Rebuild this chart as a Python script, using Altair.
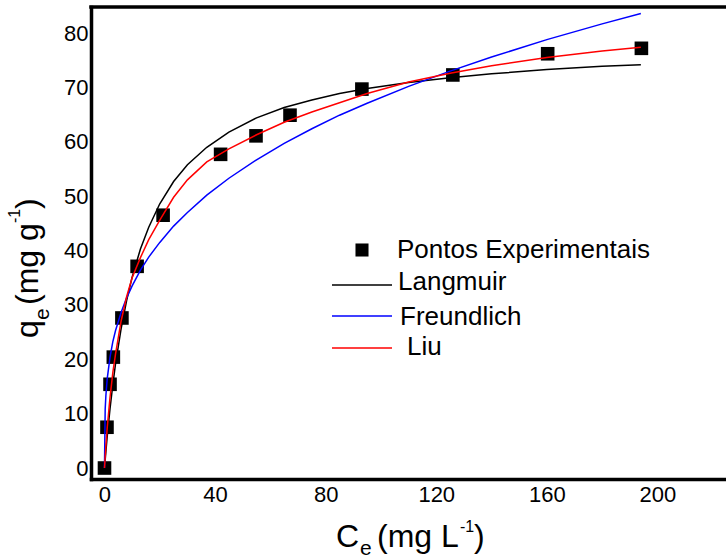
import altair as alt
import pandas as pd

FONT = "Liberation Sans"

# ---- data ----
ce_exp = [0, 0.9, 2.0, 3.2, 6.3, 11.8, 21.2, 42.0, 54.8, 67.1, 93.1, 126.0, 160.3, 194.2]
qe_exp = [0, 7.5, 15.4, 20.4, 27.6, 37.1, 46.5, 57.7, 61.1, 64.9, 69.7, 72.3, 76.2, 77.2]

c_curve = [0, 0.25, 0.5, 1, 2, 3, 4, 6, 8, 10, 13, 16, 20, 25, 30, 37, 45, 55, 65, 75,
           85, 95, 110, 125, 140, 160, 180, 194]
q_langmuir = [0, 1.5, 3.0, 5.9, 10.9, 15.3, 19.2, 25.6, 30.8, 35.1, 40.3, 44.3, 48.6, 52.7,
              55.8, 59.0, 61.8, 64.4, 66.3, 67.7, 68.9, 69.8, 70.9, 71.8, 72.5, 73.3, 73.9, 74.2]
q_freundlich = [0, 10.8, 13.3, 16.5, 20.4, 23.2, 25.3, 28.6, 31.3, 33.5, 36.4, 38.8, 41.5, 44.5,
                47.0, 50.2, 53.3, 56.7, 59.7, 62.4, 64.9, 67.1, 70.2, 73.0, 75.6, 78.8, 81.7, 83.6]
q_liu = [0, 2.0, 4.0, 7.5, 13.0, 17.5, 21.0, 27.0, 31.5, 35.0, 38.7, 42.0, 45.6, 49.8,
         53.0, 56.3, 58.7, 61.3, 63.6, 65.5, 67.2, 68.9, 71.0, 72.6, 74.0, 75.5, 76.7, 77.4]

x_ticks = [0, 40, 80, 120, 160, 200]
y_ticks = [0, 10, 20, 30, 40, 50, 60, 70, 80]

series_names = ["Pontos Experimentais", "Langmuir", "Freundlich", "Liu"]
series_colors = ["black", "#000000", "#0000ff", "#ff0000"]

# ---- layout ----
PL, PT = 91, 7
W, H = 635, 472
X_DOM = [-4.88, 224.8]
Y_DOM = [-2.02, 84.8]

xs = alt.Scale(domain=X_DOM, nice=False, zero=False)
ys = alt.Scale(domain=Y_DOM, nice=False, zero=False)

exp_df = pd.DataFrame({"Ce": ce_exp, "qe": qe_exp})


def curve(vals, color):
    df = pd.DataFrame({"Ce": c_curve, "qe": vals})
    return alt.Chart(df).mark_line(color=color, strokeWidth=1.5).encode(
        x=alt.X("Ce:Q", scale=xs,
                axis=alt.Axis(values=x_ticks, title=None)),
        y=alt.Y("qe:Q", scale=ys,
                axis=alt.Axis(values=y_ticks, title=None)),
        order="Ce:Q",
    )


points = alt.Chart(exp_df).mark_square(size=185, color="black", opacity=1).encode(
    x=alt.X("Ce:Q", scale=xs, axis=alt.Axis(values=x_ticks, title=None)),
    y=alt.Y("qe:Q", scale=ys, axis=alt.Axis(values=y_ticks, title=None)),
)

one = alt.Data(values=[{"k": 1}])


def txt(s, x, y, size, angle=0):
    return alt.Chart(one).mark_text(
        text=s, align="left", baseline="alphabetic", font=FONT,
        fontSize=size, angle=angle, color="black"
    ).encode(x=alt.value(x - PL), y=alt.value(y - PT))


def leg_line(y, color):
    return alt.Chart(one).mark_rule(color=color, strokeWidth=1.5).encode(
        x=alt.value(332 - PL), x2=alt.value(392 - PL), y=alt.value(y - PT)
    )


top_frame = alt.Chart(one).mark_rule(color="black", strokeWidth=3.5, strokeCap="square").encode(
    x=alt.value(0), x2=alt.value(W), y=alt.value(0)
)

leg_square = alt.Chart(one).mark_square(size=170, color="black", opacity=1).encode(
    x=alt.value(362 - PL), y=alt.value(250 - PT)
)

layers = [
    points,
    curve(q_langmuir, series_colors[1]),
    curve(q_freundlich, series_colors[2]),
    curve(q_liu, series_colors[3]),
    top_frame,
    leg_square,
    txt(series_names[0], 397, 258, 26),
    leg_line(285, series_colors[1]),
    txt(series_names[1], 398, 290, 26),
    leg_line(316, series_colors[2]),
    txt(series_names[2], 400, 325, 26),
    leg_line(348, series_colors[3]),
    txt(series_names[3], 407, 355, 26),
    # x title: C_e (mg L^-1)
    txt("C", 336, 547, 32),
    txt("e", 360, 555, 21),
    txt("(mg L", 377, 547, 32),
    txt("-1", 460, 532, 16),
    txt(")", 474, 547, 32),
    # y title: q_e (mg g^-1)
    txt("q", 38, 338, 32, 270),
    txt("e", 49, 320, 21, 270),
    txt("(mg g", 38, 305, 32, 270),
    txt("-1", 20, 223, 16, 270),
    txt(")", 38, 209, 32, 270),
]

chart = alt.layer(*layers).properties(
    width=W, height=H,
    autosize=alt.AutoSizeParams(type="none"),
    padding={"left": PL, "top": PT, "right": 0, "bottom": 560 - PT - H},
    background="white",
).configure_view(stroke=None).configure_axis(
    grid=False, ticks=False, domainColor="black", domainWidth=3.5, domainCap="square",
    labelFont=FONT, labelFontSize=22, labelColor="black", labelPadding=3,
).configure_axisX(labelPadding=5)

chart.save("out.html", embed_options={"renderer": "svg", "actions": False})
